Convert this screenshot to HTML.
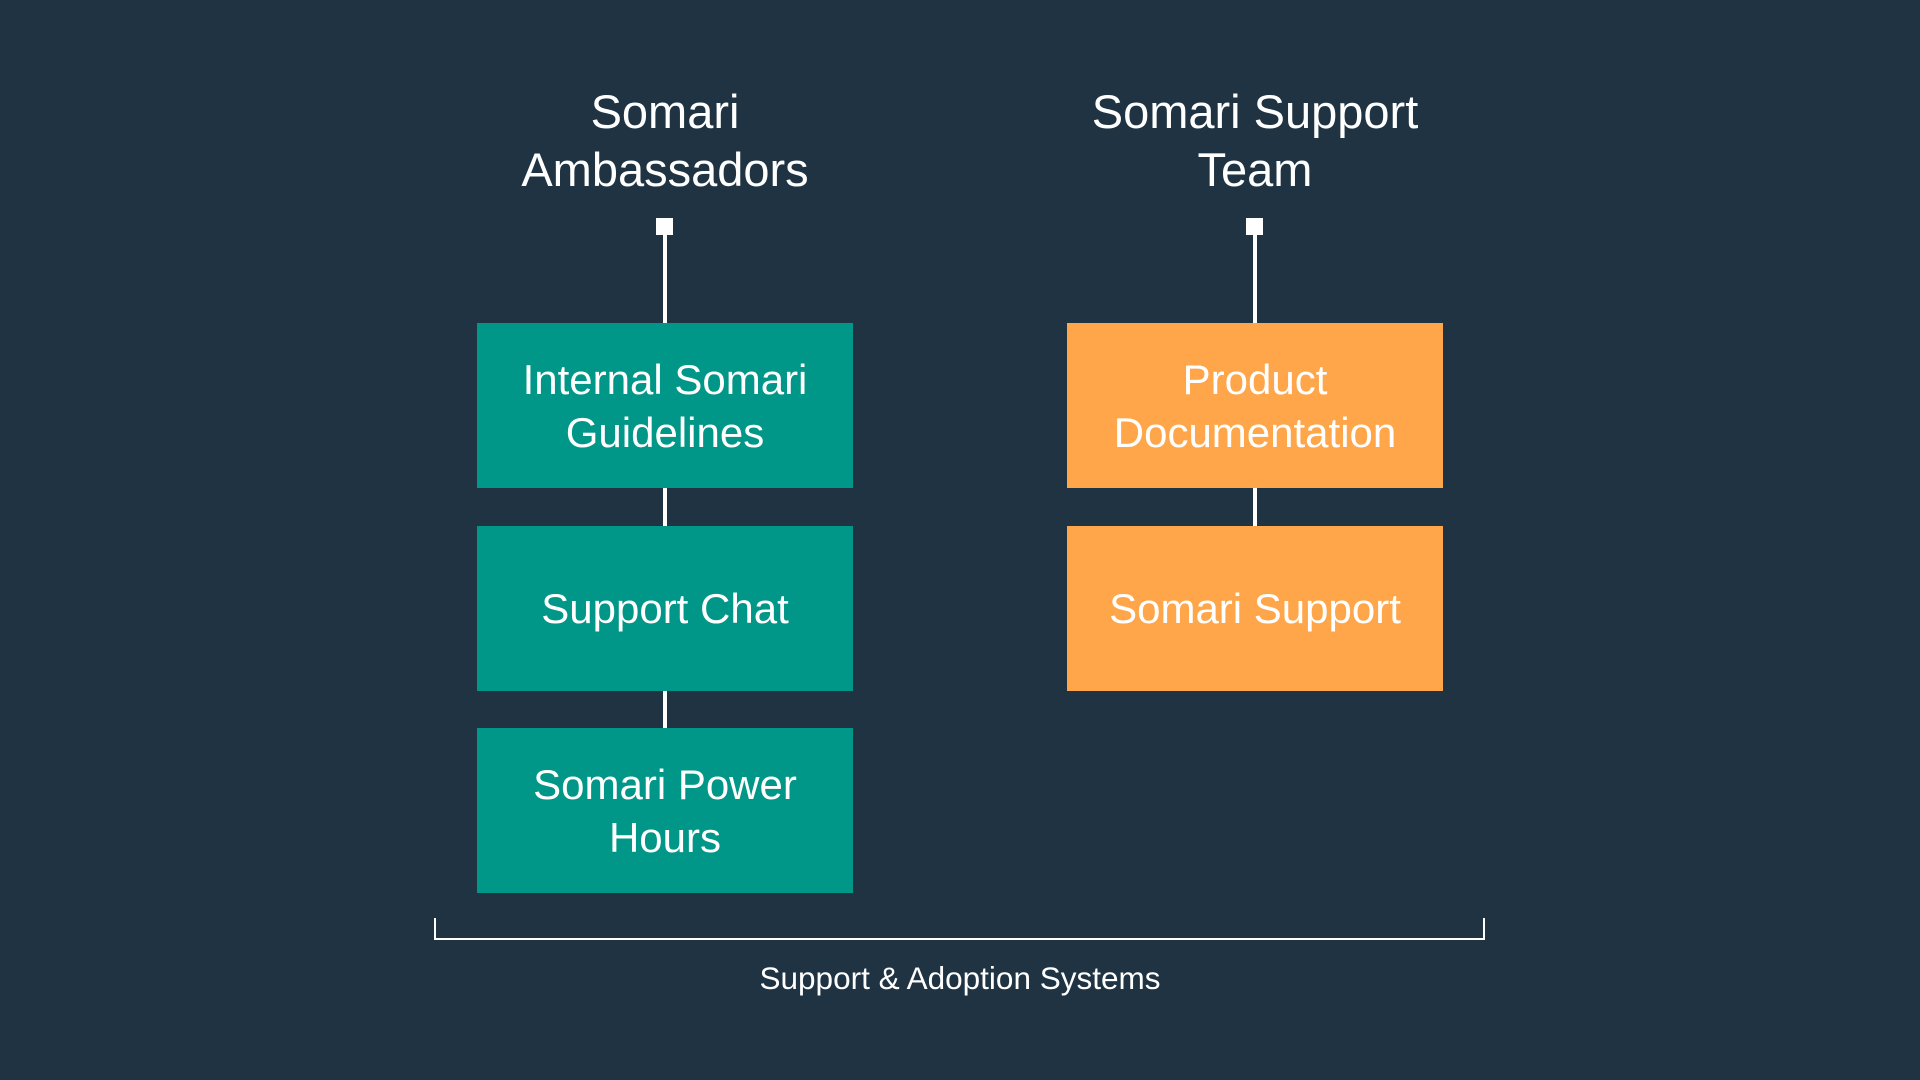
<!DOCTYPE html>
<html><head><meta charset="utf-8"><style>
html,body{margin:0;padding:0}
body{width:1920px;height:1080px;background:#1f3342;position:relative;overflow:hidden;font-family:"Liberation Sans",sans-serif;color:#fff}
.t{position:absolute;text-align:center;font-size:47px;line-height:58px;width:600px}
.box{position:absolute;width:376px;height:165px;display:flex;align-items:center;justify-content:center;text-align:center;font-size:42px;line-height:53px;color:#fff}
.g{background:#009688}.o{background:#ffa64a}
.ln{position:absolute;width:4px;background:#fff}
.sq{position:absolute;width:17px;height:17px;background:#fff}
</style></head><body>
<div class="t" style="left:365px;top:83px">Somari<br>Ambassadors</div>
<div class="t" style="left:955px;top:83px">Somari Support<br>Team</div>
<div class="sq" style="left:656px;top:218px"></div>
<div class="sq" style="left:1246px;top:218px"></div>
<div class="ln" style="left:663px;top:230px;height:500px"></div>
<div class="ln" style="left:1253px;top:230px;height:300px"></div>
<div class="box g" style="left:477px;top:323px">Internal Somari<br>Guidelines</div>
<div class="box g" style="left:477px;top:526px">Support Chat</div>
<div class="box g" style="left:477px;top:728px">Somari Power<br>Hours</div>
<div class="box o" style="left:1067px;top:323px">Product<br>Documentation</div>
<div class="box o" style="left:1067px;top:526px">Somari Support</div>
<svg style="position:absolute;left:0;top:0" width="1920" height="1080">
<path d="M435 918 V939 H1484 V918" fill="none" stroke="#fff" stroke-width="2"/>
</svg>
<div style="position:absolute;left:660px;width:600px;top:958px;text-align:center;font-size:31.5px;line-height:40px">Support &amp; Adoption Systems</div>
</body></html>
